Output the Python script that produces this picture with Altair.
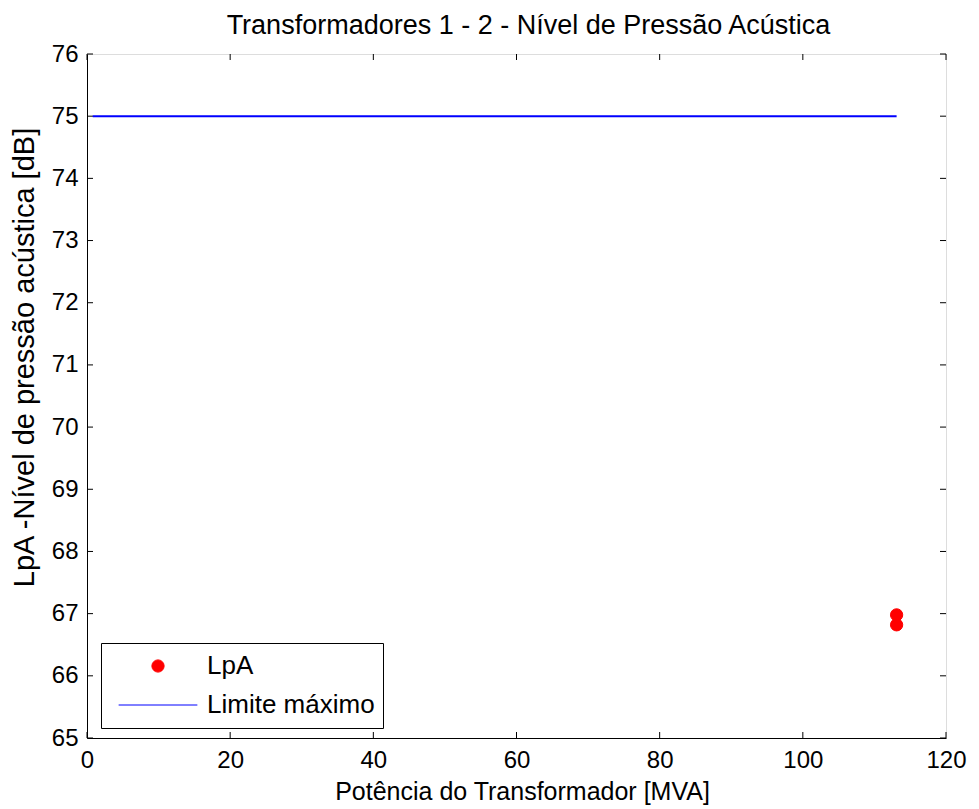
import altair as alt
import pandas as pd

# Data
series_names = ["LpA", "Limite máximo"]
series_colors = ["#ff0000", "#0000ff"]
lpa_x = [113.1, 113.1]
lpa_y = [66.98, 66.82]
limit_x = [0.8, 113.1]
limit_y = [75, 75]
x_ticks = [0, 20, 40, 60, 80, 100, 120]
y_ticks = [65, 66, 67, 68, 69, 70, 71, 72, 73, 74, 75, 76]

FONT = "Liberation Sans"
W, H = 859, 684

pts = pd.DataFrame({"x": lpa_x, "y": lpa_y, "serie": [series_names[0]] * len(lpa_x)})
lim = pd.DataFrame({"x": limit_x, "y": limit_y, "serie": [series_names[1]] * len(limit_x)})
xt = pd.DataFrame({"v": x_ticks})
yt = pd.DataFrame({"v": y_ticks})

xscale = alt.Scale(domain=[0, 120], nice=False, zero=False)
yscale = alt.Scale(domain=[65, 76], nice=False, zero=False)

xaxis = alt.Axis(values=x_ticks, format="d", tickSize=0, grid=False, labelFontSize=24, labelFont=FONT,
                 labelColor="black", domainColor="black", labelPadding=10, labelFlush=False,
                 title="Potência do Transformador [MVA]", titleFont=FONT, titleFontSize=25,
                 titleFontWeight="normal", titleColor="black", titlePadding=7, titleX=435)
yaxis = alt.Axis(values=y_ticks, format="d", tickSize=0, grid=False, labelFontSize=24, labelFont=FONT,
                 labelColor="black", domainColor="black", labelPadding=9, labelFlush=False,
                 title="LpA -Nível de pressão acústica [dB]", titleFont=FONT, titleFontSize=29,
                 titleFontWeight="normal", titleColor="black", titlePadding=12, titleY=303)

legend = alt.Legend(title=None, orient="none", legendX=14, legendY=589,
                    labelFont=FONT, labelFontSize=26, labelColor="black", labelLimit=400,
                    strokeColor="black", fillColor="white", padding=8,
                    clipHeight=30, rowPadding=9, symbolOffset=9, labelOffset=9,
                    symbolStrokeWidth=1, cornerRadius=0)

dom = series_names
fill_enc = alt.Fill("serie:N", scale=alt.Scale(domain=dom, range=series_colors), legend=legend)
stroke_enc = alt.Stroke("serie:N", scale=alt.Scale(domain=dom, range=series_colors), legend=legend)
shape_enc = alt.Shape("serie:N", scale=alt.Scale(domain=dom, range=["circle", "stroke"]), legend=legend)
size_enc = alt.Size("serie:N", scale=alt.Scale(domain=dom, range=[150, 6200]), legend=legend)

line = alt.Chart(lim).mark_line(strokeWidth=2).encode(
    x=alt.X("x:Q", scale=xscale, axis=xaxis),
    y=alt.Y("y:Q", scale=yscale, axis=yaxis),
    stroke=stroke_enc,
)

points = alt.Chart(pts).mark_point(filled=True, opacity=1, strokeWidth=1).encode(
    x=alt.X("x:Q", scale=xscale),
    y=alt.Y("y:Q", scale=yscale),
    fill=fill_enc,
    stroke=stroke_enc,
    shape=shape_enc,
    size=size_enc,
)

tk = 6
xt_bottom = alt.Chart(xt).mark_rule(color="black", strokeWidth=1).encode(
    x=alt.X("v:Q", scale=xscale), y=alt.value(H), y2=alt.value(H - tk))
xt_top = alt.Chart(xt).mark_rule(color="black", strokeWidth=1).encode(
    x=alt.X("v:Q", scale=xscale), y=alt.value(0), y2=alt.value(tk))
yt_left = alt.Chart(yt).mark_rule(color="black", strokeWidth=1).encode(
    y=alt.Y("v:Q", scale=yscale), x=alt.value(0), x2=alt.value(tk))
yt_right = alt.Chart(yt).mark_rule(color="black", strokeWidth=1).encode(
    y=alt.Y("v:Q", scale=yscale), x=alt.value(W), x2=alt.value(W - tk))

chart = alt.layer(xt_bottom, xt_top, yt_left, yt_right, line, points).properties(
    width=W, height=H,
    title=alt.TitleParams("Transformadores 1 - 2 - Nível de Pressão Acústica",
                          font=FONT, fontSize=27, fontWeight="normal", color="black",
                          offset=2, dx=12),
    autosize=alt.AutoSizeParams(type="none"),
    padding={"left": 87, "top": 54, "right": 33, "bottom": 71},
).configure_view(stroke="black", strokeWidth=1).configure(background="white")

chart.save("out.html", embed_options={"renderer": "svg", "actions": False})
